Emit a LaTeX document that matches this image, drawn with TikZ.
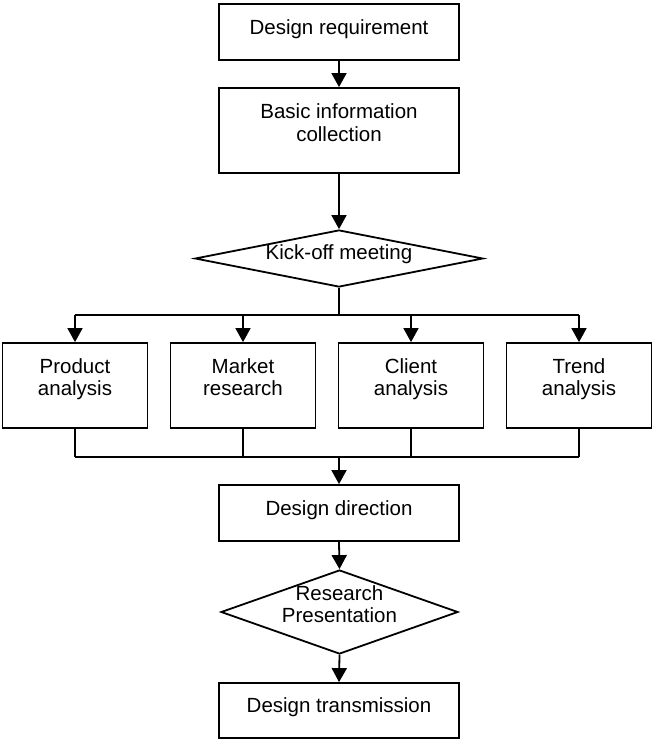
\documentclass[tikz,border=0pt]{standalone}
\usepackage{fontspec}
\setmainfont{Liberation Sans}
\usetikzlibrary{shapes.geometric,arrows.meta}
\begin{document}
\begin{tikzpicture}[x=1pt,y=-1pt,line width=1.8pt,
  txt/.style={font=\fontsize{20.5}{22.5}\selectfont, align=center, inner sep=0pt},
  box/.style={txt, draw, rectangle, minimum width=240pt, text depth=10.2pt},
  twoline/.style={text depth=17pt},
  smallbox/.style={box, twoline, minimum width=145pt, minimum height=85pt},
  dia/.style={draw, diamond, inner sep=0pt},
  arr/.style={-{Triangle[length=14pt,width=15pt]}}]
\useasboundingbox (0,0) rectangle (652,740);

\node[box, minimum height=56pt] (req) at (339,32) {Design requirement};
\node[box, twoline, text depth=15.5pt, minimum height=85pt] (basic) at (339,130.5) {Basic information\\collection};
\node[dia, minimum width=288pt, minimum height=57pt] (kick) at (339,258.5) {};
\node[txt, anchor=base] (kicktext) at (339,259) {Kick-off meeting};

\node[smallbox] (prod) at (75,385.5) {Product\\analysis};
\node[smallbox] (mark) at (243,385.5) {Market\\research};
\node[smallbox] (client) at (411,385.5) {Client\\analysis};
\node[smallbox] (trend) at (579,385.5) {Trend\\analysis};

\coordinate (busA) at (75,315);
\coordinate (busB) at (579,315);
\coordinate (busC) at (75,457);
\coordinate (busD) at (579,457);

\node[box, minimum height=56pt] (dir) at (339,513) {Design direction};
\node[dia, minimum width=237pt, minimum height=84pt] (pres) at (339.5,612) {};
\node[txt] (prestext) at (339.5,604.3) {Research\\Presentation};
\node[box, minimum height=55pt] (trans) at (339,710.5) {Design transmission};

\draw[arr] (req.south) -- (basic.north);
\draw[arr] (basic.south) -- (kick.north);
\draw (kick.south) -- (kick.south |- busA);
\draw (busA) -- (busB);
\foreach \n in {prod,mark,client,trend}{
  \draw[arr] (\n.north |- busA) -- (\n.north);
  \draw (\n.south) -- (\n.south |- busC);
}
\draw (busC) -- (busD);
\draw[arr] (dir.north |- busC) -- (dir.north);
\draw[arr] (dir.south) -- (pres.north);
\draw[arr] (pres.south) -- (trans.north);
\end{tikzpicture}
\end{document}
